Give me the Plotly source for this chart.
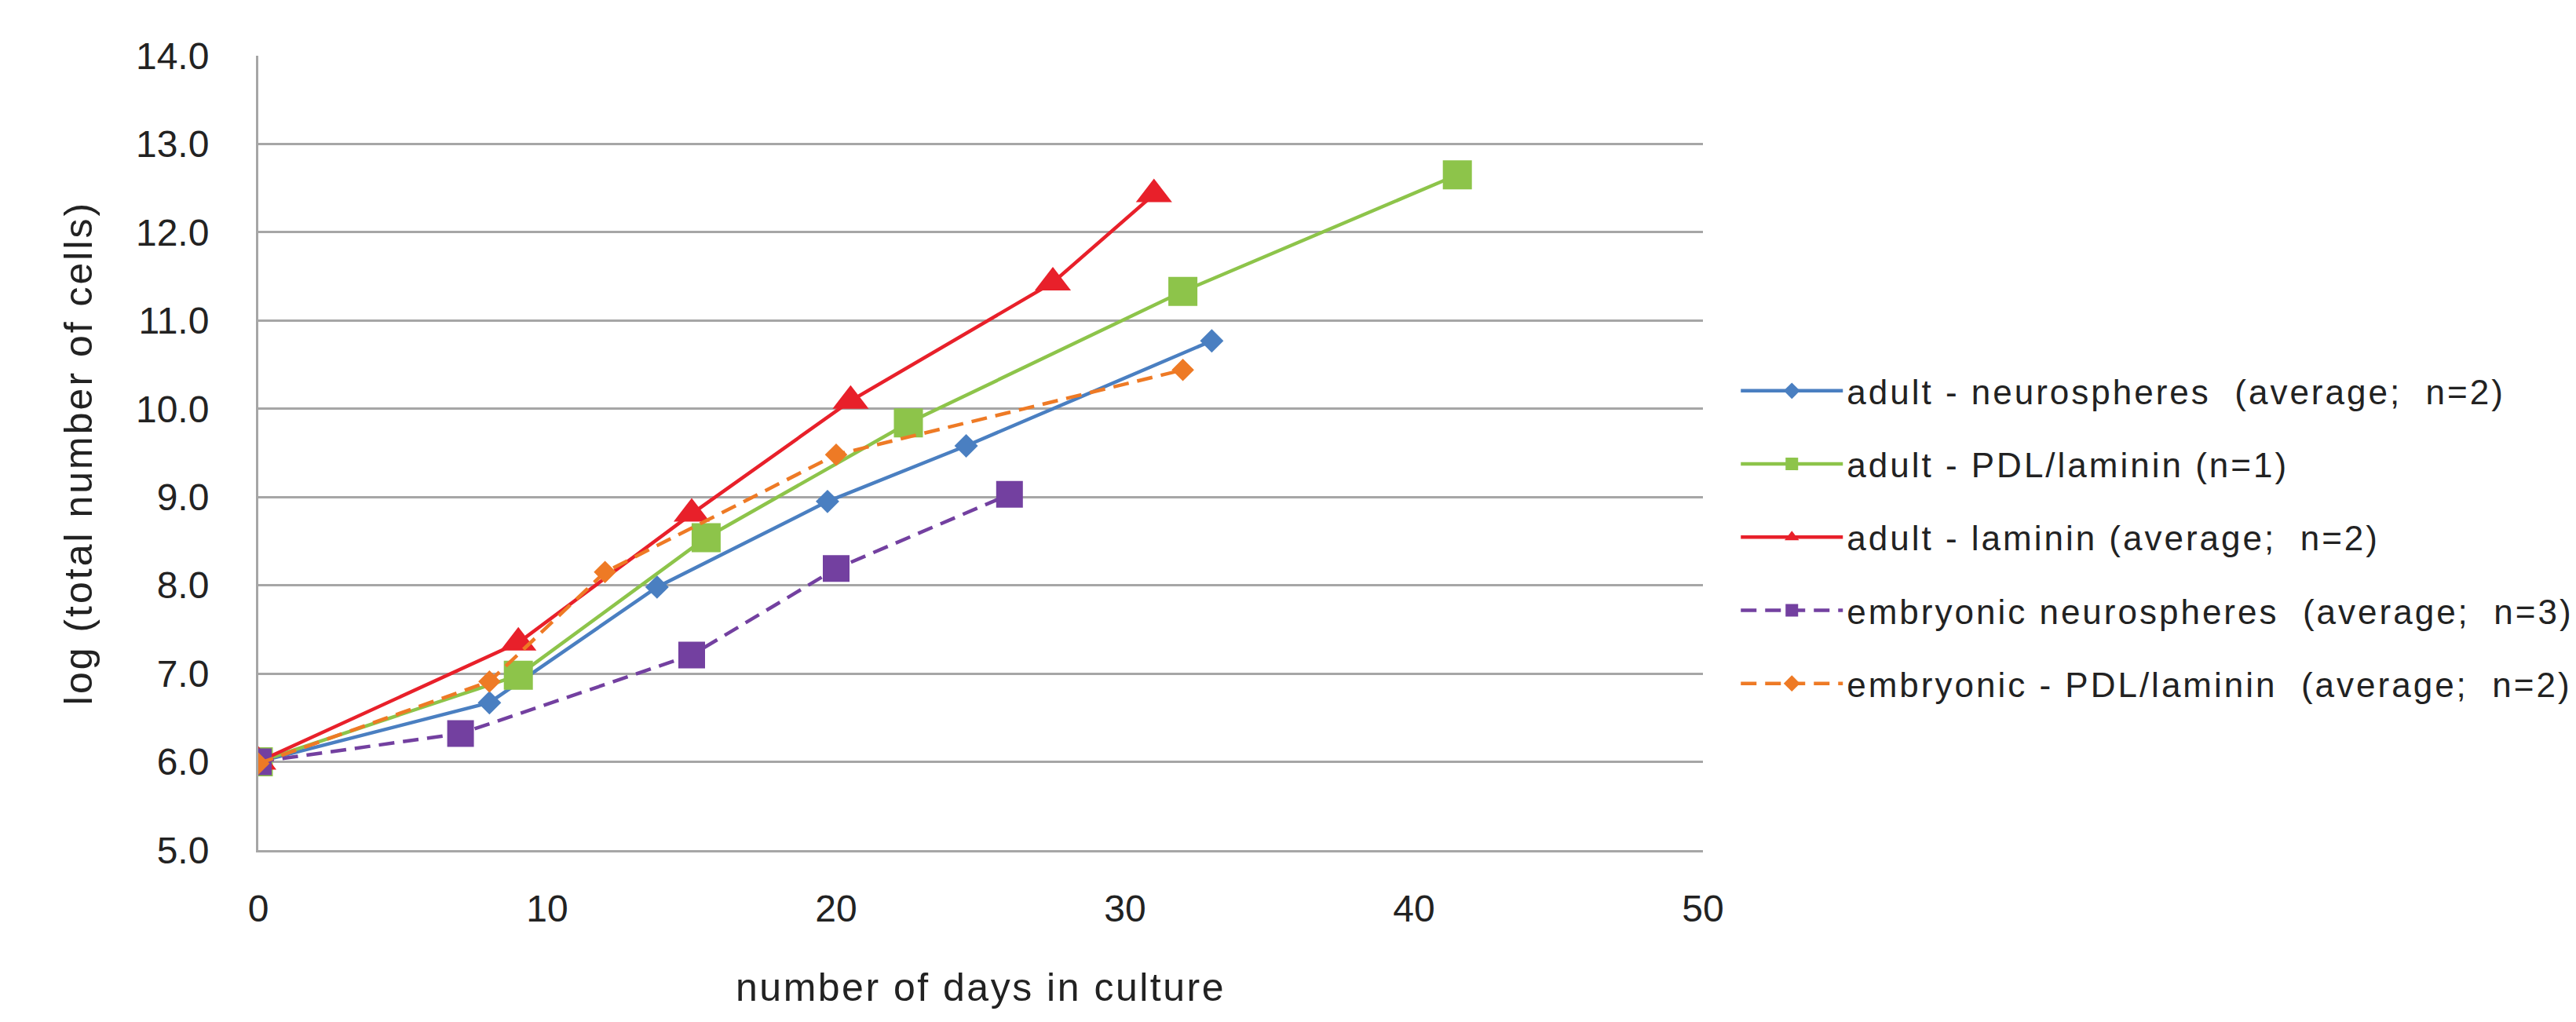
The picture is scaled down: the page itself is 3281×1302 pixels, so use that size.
import plotly.graph_objects as go

# ---- data ----
adult_neuro_x = [0, 8.0, 13.8, 19.7, 24.5, 33.0]
adult_neuro_y = [6.0, 6.67, 7.98, 8.95, 9.58, 10.77]

adult_pdl_x = [0, 9.0, 15.5, 22.5, 32.0, 41.5]
adult_pdl_y = [6.0, 6.98, 8.54, 9.84, 11.33, 12.65]

adult_lam_x = [0, 9.0, 15.0, 20.5, 27.5, 31.0]
adult_lam_y = [6.0, 7.35, 8.81, 10.09, 11.43, 12.43]

emb_neuro_x = [0, 7.0, 15.0, 20.0, 26.0]
emb_neuro_y = [6.0, 6.32, 7.21, 8.19, 9.03]

emb_pdl_x = [0, 8.0, 12.0, 20.0, 32.0]
emb_pdl_y = [5.98, 6.91, 8.15, 9.48, 10.44]

names = [
    "adult - neurospheres  (average;  n=2)",
    "adult - PDL/laminin (n=1)",
    "adult - laminin (average;  n=2)",
    "embryonic neurospheres  (average;  n=3)",
    "embryonic - PDL/laminin  (average;  n=2)",
]

x_title = "number of days in culture"
y_title = "log (total number of cells)"

x_ticks = [0, 10, 20, 30, 40, 50]
y_ticks = [5, 6, 7, 8, 9, 10, 11, 12, 13, 14]

FONT = "Liberation Sans, Arial, Helvetica, sans-serif"
TXT = "#222222"


def spaced(text, px):
    return f'<span style="letter-spacing:{px}px">{text}</span>'


series = [
    (adult_neuro_x, adult_neuro_y, names[0], "#4A7FC1", "diamond", 23, "solid"),
    (adult_pdl_x, adult_pdl_y, names[1], "#8DC44A", "square", 37, "solid"),
    (adult_lam_x, adult_lam_y, names[2], "#E8202A", "triangle-up", 40, "solid"),
    (emb_neuro_x, emb_neuro_y, names[3], "#7340A0", "square", 34, "20px,11px"),
    (emb_pdl_x, emb_pdl_y, names[4], "#EE7A25", "diamond", 22, "20px,11px"),
]

fig = go.Figure()
for i, (xs, ys, nm, col, sym, sz, dash) in enumerate(series):
    fig.add_trace(go.Scatter(
        x=xs, y=ys, name=spaced(nm, 3), mode="lines+markers",
        line=dict(color=col, width=4.5, dash=dash),
        marker=dict(symbol=sym, size=sz, color=col, line=dict(width=0)),
        legendgroup=f"g{i}",
    ))

fig.update_layout(
    width=3281, height=1302,
    margin=dict(l=321, r=1120, t=63, b=227, autoexpand=False),
    paper_bgcolor="white", plot_bgcolor="white",
    font=dict(family=FONT, size=44, color=TXT),
    showlegend=True,
    legend=dict(
        x=1.0235, xanchor="left", y=0.394, yanchor="middle",
        font=dict(family=FONT, size=44, color=TXT),
        itemwidth=130, tracegroupgap=33, traceorder="grouped",
        bgcolor="rgba(0,0,0,0)",
    ),
    xaxis=dict(
        range=[0, 50], tickvals=x_ticks, ticktext=[str(v) for v in x_ticks],
        showgrid=False, zeroline=False,
        showline=True, linecolor="#A6A6A6", linewidth=3,
        ticks="", ticklabelstandoff=30,
        tickfont=dict(family=FONT, size=48, color=TXT),
        title=dict(text=spaced(x_title, 2.5), standoff=58,
                   font=dict(family=FONT, size=50, color=TXT)),
    ),
    yaxis=dict(
        range=[5, 14], tickvals=y_ticks, ticktext=[f"{v:.1f}" for v in y_ticks],
        showgrid=True, gridcolor="#A6A6A6", gridwidth=3, zeroline=False,
        showline=True, linecolor="#A6A6A6", linewidth=3,
        ticks="", ticklabelstandoff=50,
        tickfont=dict(family=FONT, size=48, color=TXT),
        title=dict(text=spaced(y_title, 3), standoff=40,
                   font=dict(family=FONT, size=50, color=TXT)),
    ),
)

fig.write_html("out.html")
